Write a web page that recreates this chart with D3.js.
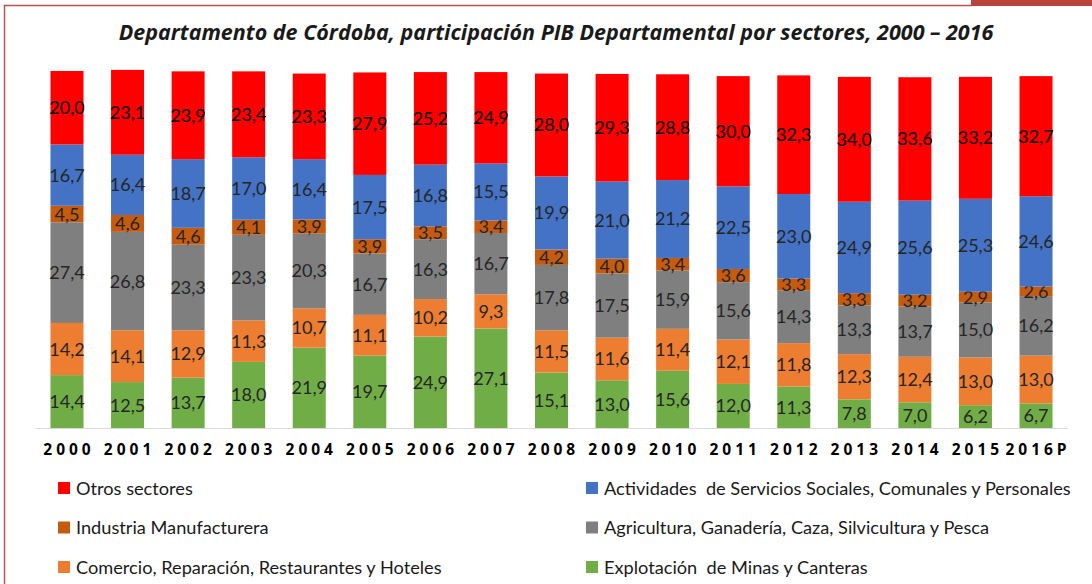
<!DOCTYPE html>
<html>
<head>
<meta charset="utf-8">
<script src="https://cdn.jsdelivr.net/npm/d3@7"></script>
<style>
  body { margin: 0; background: #fff; }
  svg { display: block; }
</style>
</head>
<body>
<svg width="1092" height="584"></svg>
<script>
// años y valores (% del PIB departamental)
const years = ["2000","2001","2002","2003","2004","2005","2006","2007","2008","2009","2010","2011","2012","2013","2014","2015","2016P"]

const minas       = [14.4,12.5,13.7,18.0,21.9,19.7,24.9,27.1,15.1,13.0,15.6,12.0,11.3,7.8,7.0,6.2,6.7]
const comercio    = [14.2,14.1,12.9,11.3,10.7,11.1,10.2,9.3,11.5,11.6,11.4,12.1,11.8,12.3,12.4,13.0,13.0]
const agricultura = [27.4,26.8,23.3,23.3,20.3,16.7,16.3,16.7,17.8,17.5,15.9,15.6,14.3,13.3,13.7,15.0,16.2]
const industria   = [4.5,4.6,4.6,4.1,3.9,3.9,3.5,3.4,4.2,4.0,3.4,3.6,3.3,3.3,3.2,2.9,2.6]
const actividades = [16.7,16.4,18.7,17.0,16.4,17.5,16.8,15.5,19.9,21.0,21.2,22.5,23.0,24.9,25.6,25.3,24.6]
const otros       = [20.0,23.1,23.9,23.4,23.3,27.9,25.2,24.9,28.0,29.3,28.8,30.0,32.3,34.0,33.6,33.2,32.7]

const series = [
  { key: "minas", name: "Explotación  de Minas y Canteras", values: minas, color: "#70ad47" },
  { key: "comercio", name: "Comercio, Reparación, Restaurantes y Hoteles", values: comercio, color: "#ed7d31" },
  { key: "agricultura", name: "Agricultura, Ganadería, Caza, Silvicultura y Pesca", values: agricultura, color: "#7f7f7f" },
  { key: "industria", name: "Industria Manufacturera", values: industria, color: "#c55a11" },
  { key: "actividades", name: "Actividades  de Servicios Sociales, Comunales y Personales", values: actividades, color: "#4472c4" },
  { key: "otros", name: "Otros sectores", values: otros, color: "#ff0000" }
]

// orden de la leyenda: dos columnas, tres filas
const legendOrder = ["otros","actividades","industria","agricultura","comercio","minas"]

const svg = d3.select("svg")
const W = 1092, H = 584

// marco
svg.append("path")
  .attr("d", "M4.5,584 L4.5,5.5 L972,5.5")
  .attr("fill", "none")
  .attr("stroke", "#c0504d")
  .attr("stroke-width", 1.5)
svg.append("rect")
  .attr("x", 971).attr("y", 0).attr("width", W - 971).attr("height", 6)
  .attr("fill", "#b9443c")

// título
svg.append("text")
  .attr("x", 556)
  .attr("y", 40)
  .attr("text-anchor", "middle")
  .style("font-family", "'Open Sans', sans-serif")
  .style("font-weight", "bold")
  .style("font-style", "italic")
  .style("font-size", "21.5px")
  .attr("fill", "#1a1a1a")
  .text("Departamento de Córdoba, participación PIB Departamental por sectores, 2000 – 2016")

const baseY = 428
const x = d3.scaleBand()
  .domain(years)
  .range([36.7, 1066.3])
  .paddingInner(0.455)
  .paddingOuter(0.2275)

const y = d3.scaleLinear()
  .domain([0, 100])
  .range([baseY, baseY - 367.3])

const table = years.map((yr, i) => {
  let row = { year: yr }
  series.forEach(s => row[s.key] = s.values[i])
  return row
})

const stack = d3.stack().keys(series.map(s => s.key))
const stacked = stack(table)

const layers = svg.append("g")
  .selectAll("g")
  .data(stacked)
  .enter()
  .append("g")
  .attr("fill", (d, i) => series[i].color)

layers.selectAll("rect")
  .data(d => d)
  .enter()
  .append("rect")
  .attr("x", d => x(d.data.year))
  .attr("y", d => y(d[1]))
  .attr("width", x.bandwidth())
  .attr("height", d => y(d[0]) - y(d[1]))

// etiquetas de valores
layers.each(function(layer, i) {
  d3.select(this).selectAll("text")
    .data(layer)
    .enter()
    .append("text")
    .attr("x", d => x(d.data.year) + x.bandwidth() / 2)
    .attr("y", d => (y(d[0]) + y(d[1])) / 2)
    .attr("dy", "0.36em")
    .attr("text-anchor", "middle")
    .style("font-family", "Lato, 'Open Sans', sans-serif")
    .style("font-size", "18px")
    .attr("fill", series[i].key === "otros" ? "#000" : "#262626")
    .text(d => d3.format(".1f")(d[1] - d[0]).replace(".", ","))
})

// eje x
const xAxis = svg.append("g")
  .attr("transform", `translate(0,${baseY})`)
  .call(d3.axisBottom(x).tickSize(0).tickPadding(16))
xAxis.select(".domain")
  .attr("stroke", "#d9d9d9")
  .attr("d", "M35,0.5H1068")
xAxis.selectAll("text")
  .style("font-family", "'Open Sans', sans-serif")
  .style("font-weight", "bold")
  .style("font-size", "15.5px")
  .style("letter-spacing", "4px")
  .attr("fill", "#000")
  .attr("dx", "2px")

// leyenda
const legend = svg.append("g")
  .selectAll("g")
  .data(legendOrder.map(k => series.find(s => s.key === k)))
  .enter()
  .append("g")
  .attr("transform", (d, i) => `translate(${i % 2 === 0 ? 58 : 586},${482 + Math.floor(i / 2) * 39.5})`)

legend.append("rect")
  .attr("width", 12)
  .attr("height", 12)
  .attr("fill", d => d.color)

legend.append("text")
  .attr("x", 18)
  .attr("y", 6)
  .attr("dy", "0.36em")
  .style("font-family", "Lato, 'Open Sans', sans-serif")
  .style("font-size", "18.2px")
  .style("white-space", "pre")
  .attr("fill", "#1a1a1a")
  .text(d => d.name)
</script>
</body>
</html>
